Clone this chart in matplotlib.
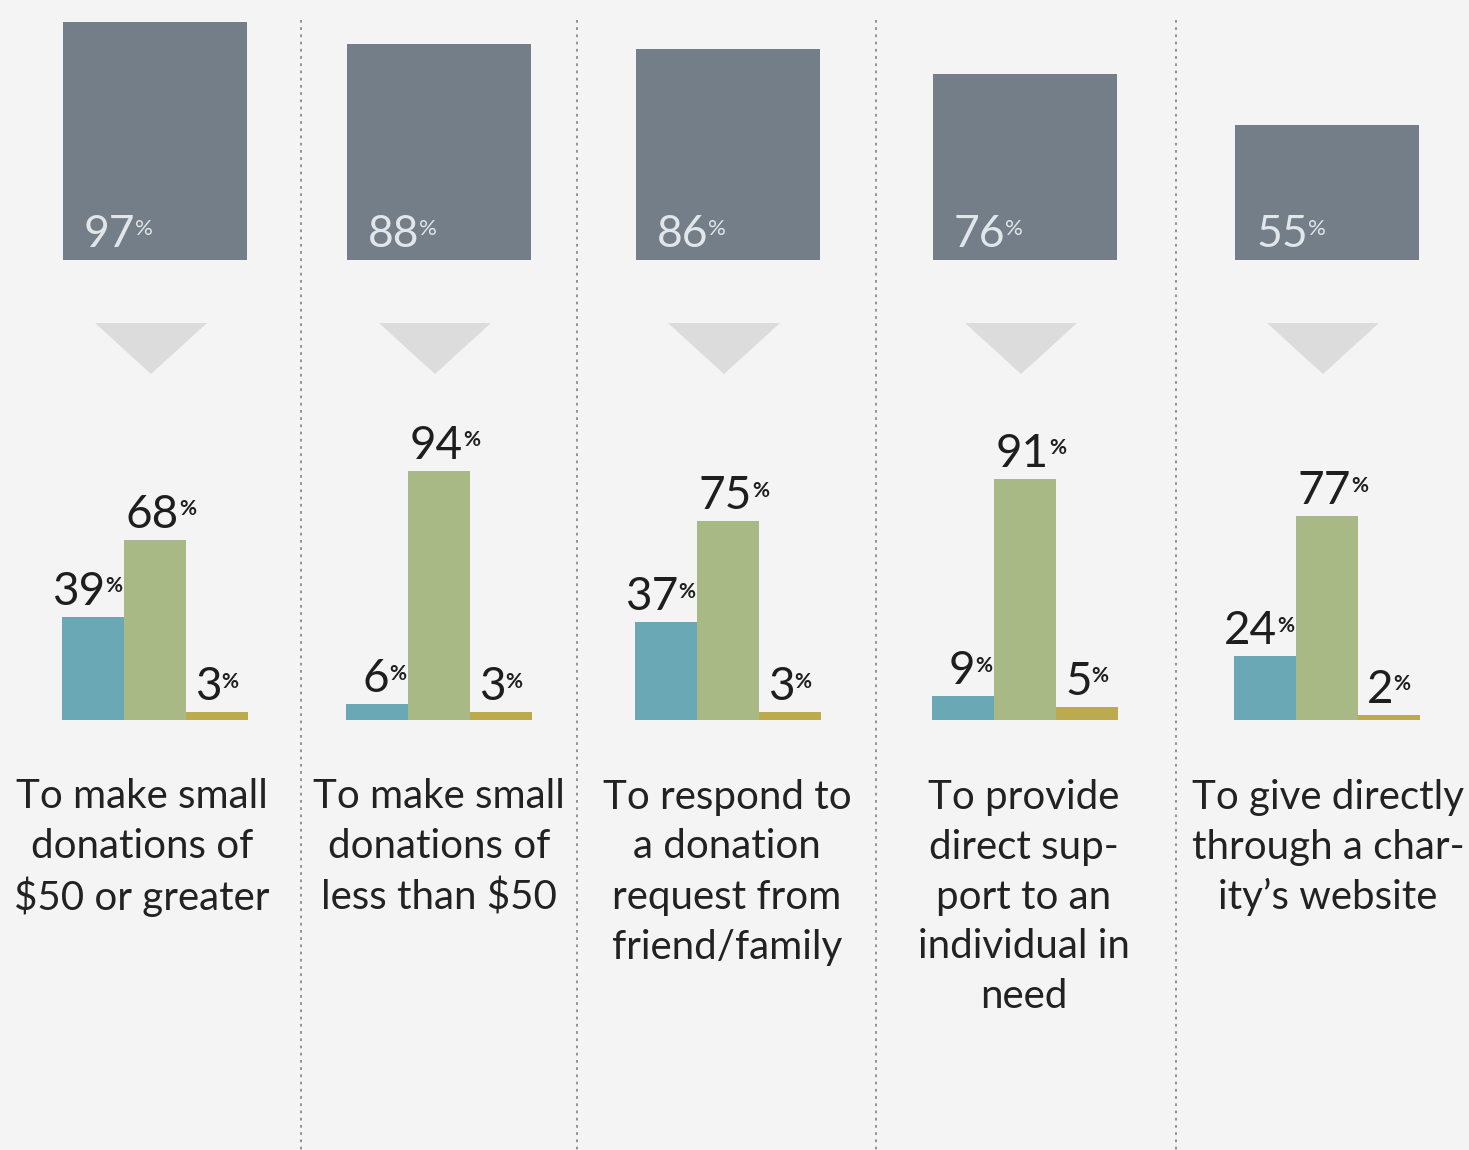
import matplotlib.pyplot as plt
from matplotlib.patches import Polygon

plt.rcParams['font.family'] = ['Lato', 'DejaVu Sans']

# data
categories = [
    ["To make small", "donations of", "$50 or greater"],
    ["To make small", "donations of", "less than $50"],
    ["To respond to", "a donation", "request from", "friend/family"],
    ["To provide", "direct sup-", "port to an", "individual in", "need"],
    ["To give directly", "through a char-", "ity\u2019s website"],
]
top_values = [97, 88, 86, 76, 55]
blue_values = [39, 6, 37, 9, 24]
green_values = [68, 94, 75, 91, 77]
gold_values = [3, 3, 3, 5, 2]

W, H = 1469, 1150
bg = '#f4f4f4'
box_color = '#737e88'
bar_colors = ['#6ba8b6', '#a8b986', '#bcaa4e']
centers = [155, 439, 728, 1025, 1327]
text_centers = [142, 439, 727, 1024, 1328]
seps = [301, 577, 876, 1176]
bw = 62

fig = plt.figure(figsize=(W / 100, H / 100), dpi=100, facecolor=bg)

# background layer in pixel coords
bg_ax = fig.add_axes([0, 0, 1, 1])
bg_ax.set_xlim(0, W)
bg_ax.set_ylim(H, 0)
bg_ax.axis('off')
bg_ax.set_facecolor(bg)

for sx in seps:
    bg_ax.plot([sx, sx], [20, H], color='#8a8a8a', lw=1.3, ls=(0, (1.5, 2.5)))

for c in centers:
    cx = c - 4
    bg_ax.add_patch(Polygon([[cx - 56, 323], [cx + 56, 323], [cx, 374]],
                            closed=True, color='#dcdcdc', lw=0))

for c, lines in zip(text_centers, categories):
    for i, line in enumerate(lines):
        bg_ax.text(c, 797 + 50 * i, line, ha='center', va='center',
                   fontsize=29, color='#222222')

# top boxes
top_ax = fig.add_axes([0, (H - 260) / H, 1, 245 / H])
top_ax.set_xlim(0, W)
top_ax.set_ylim(0, 100)
top_ax.axis('off')
top_ax.bar(centers, top_values, width=184, color=box_color)
for c, v in zip(centers, top_values):
    t = top_ax.text(c - 92 + 21, 5.5, str(v), ha='left', va='baseline',
                    fontsize=32, color='#e2e6e9')
    top_ax.annotate('%', xy=(1, 1), xycoords=t, xytext=(0, -4),
                    textcoords='offset points', ha='left', va='top',
                    fontsize=16, color='#e2e6e9')

# bottom grouped bars
px = 2.65
bot_ax = fig.add_axes([0, (H - 720) / H, 1, 110 * px / H])
bot_ax.set_xlim(0, W)
bot_ax.set_ylim(0, 110)
bot_ax.axis('off')


def pct_label(x, y, v, ha):
    # number + small raised percent sign
    pct_w = 15
    if ha == 'right':
        x = x - pct_w
    t = bot_ax.text(x, y, str(v), ha=ha, va='baseline', fontsize=33,
                    color='#1e1e1e')
    bot_ax.annotate('%', xy=(1, 1), xycoords=t, xytext=(0, -4),
                    textcoords='offset points', ha='left', va='top',
                    fontsize=15, color='#1e1e1e', fontweight='bold')


series = [blue_values, green_values, gold_values]
for k, vals in enumerate(series):
    xs = [c + (k - 1) * bw for c in centers]
    bot_ax.bar(xs, vals, width=bw, color=bar_colors[k])
    for x, v in zip(xs, vals):
        y = v + 12 / px
        if k == 0:
            pct_label(x + bw / 2 - 4, y, v, 'right')
        elif k == 1:
            pct_label(x - bw / 2 + 2, y, v, 'left')
        else:
            pct_label(x - bw / 2 + 9, y, v, 'left')

fig.savefig('out.png', dpi=100, facecolor=bg)
